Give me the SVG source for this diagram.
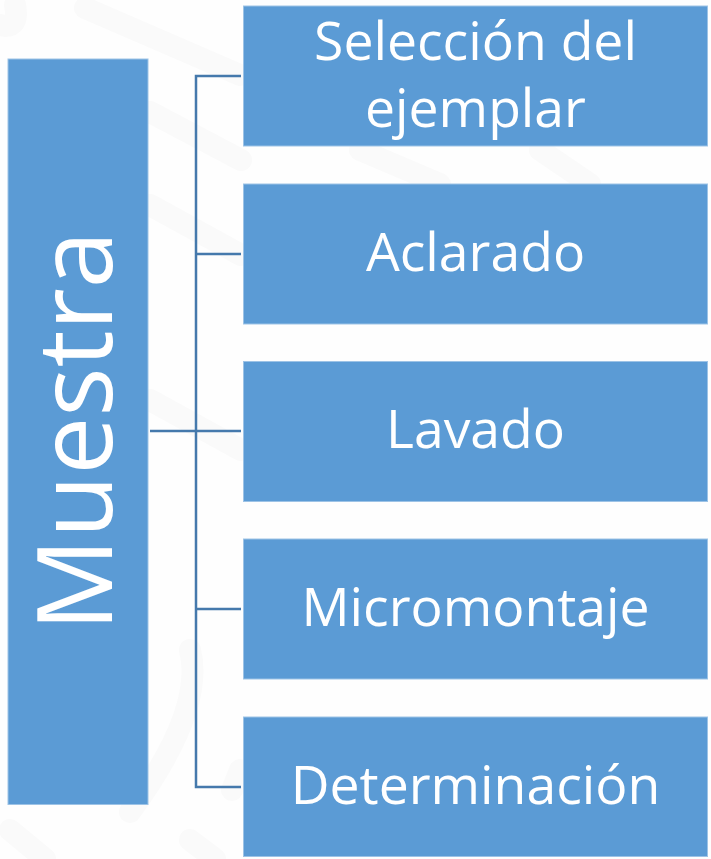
<svg xmlns="http://www.w3.org/2000/svg" width="711" height="859" viewBox="0 0 711 859">
<style>
.box{fill:#5b9bd5;stroke:#9dc3e6;stroke-width:1}
.t{fill:#fff;font-family:"Open Sans","Noto Sans",sans-serif;font-size:53.500px;text-anchor:middle}
.c{fill:none;stroke:#4579ac;stroke-width:2.500}
.w{fill:none;stroke:#fafafa;stroke-linecap:round;stroke-width:22}
</style>
<rect width="711" height="859" fill="#fefefe"/>
<g id="watermark">
<path class="w" d="M85 8L240 75M150 112L241 160M150 205L241 255M360 150L440 184M540 150L590 184M150 400L241 450"/>
<path class="w" d="M0 25Q20 30 15 5M190 650Q205 710 130 812M10 830L45 859M190 840L215 859M232 790L240 770"/>
</g>
<g id="connectors">
<path class="c" d="M241 76H196V787H241M196 254H241M150 431H241M196 609H241"/>
</g>
<g id="muestra">
<rect class="box" x="8" y="59" width="140" height="745.500"/>
<text class="t" transform="translate(112 431) rotate(-90)" style="font-size:103.500px">Muestra</text>
</g>
<g id="seleccion">
<rect class="box" x="243.500" y="6" width="464" height="140"/>
<text class="t" x="475.500" y="60">Selección del</text>
<text class="t" x="475.500" y="127">ejemplar</text>
</g>
<g id="aclarado">
<rect class="box" x="243.500" y="184" width="464" height="140"/>
<text class="t" x="475.500" y="271">Aclarado</text>
</g>
<g id="lavado">
<rect class="box" x="243.500" y="361.500" width="464" height="140"/>
<text class="t" x="475.500" y="448">Lavado</text>
</g>
<g id="micromontaje">
<rect class="box" x="243.500" y="539" width="464" height="140"/>
<text class="t" x="475.500" y="626">Micromontaje</text>
</g>
<g id="determinacion">
<rect class="box" x="243.500" y="717" width="464" height="139.500"/>
<text class="t" x="475.500" y="804">Determinación</text>
</g>
</svg>
